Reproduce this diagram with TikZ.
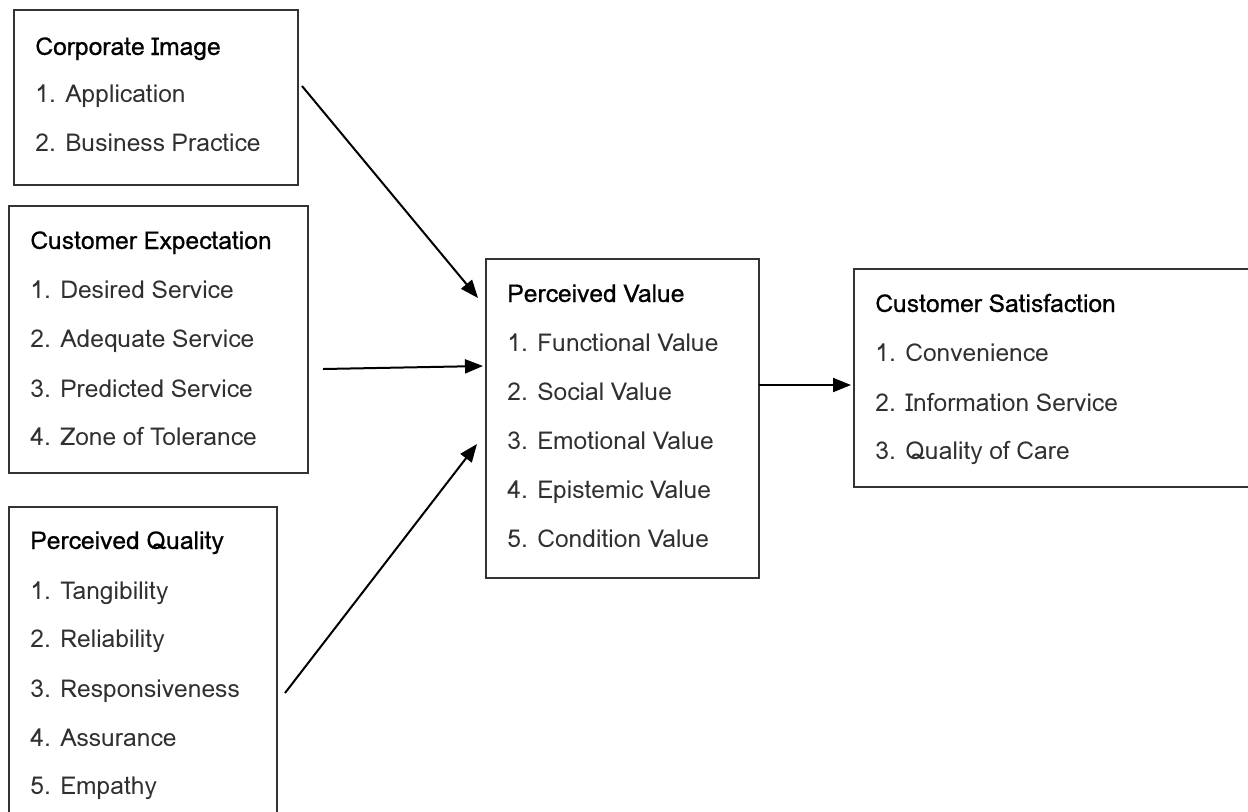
\documentclass[tikz,border=0pt]{standalone}
\usepackage{fontspec}
\setmainfont{Loma}[WordSpace=0.8]
\newfontfamily\hdfont{Loma}[WordSpace=0.8, FakeBold=0.6]
\usepackage{tikz}
\usetikzlibrary{arrows.meta,positioning}
\definecolor{boxline}{HTML}{333333}
\definecolor{itemink}{HTML}{303030}

\begin{document}
\begin{tikzpicture}[
  x=0.5pt, y=-0.5pt,
  box/.style={draw=boxline, line width=0.7pt, fill=none, inner sep=0pt},
  hd/.style={font=\hdfont\fontsize{12.3}{14}\selectfont, anchor=base west, inner sep=0pt},
  item/.style={font=\fontsize{12.3}{14}\selectfont\color{itemink}, anchor=base west, inner sep=0pt},
  arr/.style={line width=1pt, -{Triangle[length=9pt,width=7pt]}},
]
\clip (0,0) rectangle (1248,811);
\node[box, minimum width=142pt, minimum height=87.5pt] (ci) at (156,97.5) {};
\node[box, minimum width=149.5pt, minimum height=133.5pt] (ce) at (158.5,339.5) {};
\node[box, minimum width=134pt, minimum height=166.5pt] (pq) at (143,673.5) {};
\node[box, minimum width=136.5pt, minimum height=159.5pt] (pv) at (622.5,418.5) {};
\node[box, minimum width=203pt, minimum height=109pt] (cs) at (1057,378) {};
\node[hd] (ci-hd) at (35,55) {Corporate Image};
\node[item] (ci-1) at (35,102) {1. Application};
\node[item] (ci-2) at (35,151) {2. Business Practice};
\node[hd] (ce-hd) at (30,249) {Customer Expectation};
\node[item] (ce-1) at (30,298) {1. Desired Service};
\node[item] (ce-2) at (30,347) {2. Adequate Service};
\node[item] (ce-3) at (30,397) {3. Predicted Service};
\node[item] (ce-4) at (30,445) {4. Zone of Tolerance};
\node[hd] (pq-hd) at (30,549) {Perceived Quality};
\node[item] (pq-1) at (30,599) {1. Tangibility};
\node[item] (pq-2) at (30,647) {2. Reliability};
\node[item] (pq-3) at (30,697) {3. Responsiveness};
\node[item] (pq-4) at (30,746) {4. Assurance};
\node[item] (pq-5) at (30,794) {5. Empathy};
\node[hd] (pv-hd) at (507,302) {Perceived Value};
\node[item] (pv-1) at (507,351) {1. Functional Value};
\node[item] (pv-2) at (507,400) {2. Social Value};
\node[item] (pv-3) at (507,449) {3. Emotional Value};
\node[item] (pv-4) at (507,498) {4. Epistemic Value};
\node[item] (pv-5) at (507,547) {5. Condition Value};
\node[hd] (cs-hd) at (875,312) {Customer Satisfaction};
\node[item] (cs-1) at (875,361) {1. Convenience};
\node[item] (cs-2) at (875,411) {2. Information Service};
\node[item] (cs-3) at (875,459) {3. Quality of Care};
\coordinate (ci-out) at (302,86);
\coordinate (pv-in1) at (478,298);
\coordinate (ce-out) at (323,369);
\coordinate (pv-in2) at (483,366);
\coordinate (pq-out) at (285,693);
\coordinate (pv-in3) at (477,444);
\coordinate (pv-out) at (759,385);
\coordinate (cs-in) at (851,385);
\draw[arr] (ci-out) -- (pv-in1);
\draw[arr] (ce-out) -- (pv-in2);
\draw[arr] (pq-out) -- (pv-in3);
\draw[arr] (pv-out) -- (cs-in);
\end{tikzpicture}
\end{document}
